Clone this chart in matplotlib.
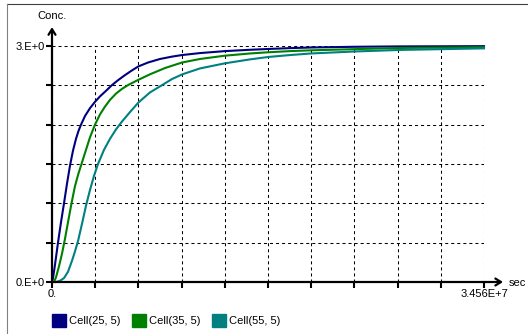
import numpy as np
import matplotlib
matplotlib.use('Agg')
import matplotlib.pyplot as plt
from matplotlib.patches import Patch
from matplotlib.lines import Line2D

plt.rcParams['font.family'] = ['Liberation Sans', 'DejaVu Sans']

# ---- data (time in seconds, concentration) ----
x_max = 3.456e7
y_max = 3.0

t_c25 = [0, 8e4, 2.4e5, 4.8e5, 7.2e5, 9.6e5, 1.2e6, 1.44e6, 1.68e6, 1.92e6,
         2.12e6, 2.32e6, 2.64e6, 3.04e6, 3.44e6, 3.84e6, 4.32e6, 4.776e6, 5.28e6, 5.84e6,
         6.4e6, 6.904e6, 7.68e6, 8.64e6, 9.6e6, 1.04e7, 1.184e7, 1.384e7, 1.584e7, 1.728e7,
         1.904e7, 2.072e7, 2.416e7, 2.784e7, 3.456e7]
c_c25 = [0, 0.05, 0.22, 0.5, 0.76, 1.0, 1.25, 1.48, 1.67, 1.82,
         1.92, 2.0, 2.11, 2.21, 2.29, 2.36, 2.43, 2.5, 2.565, 2.63,
         2.69, 2.74, 2.79, 2.835, 2.865, 2.885, 2.91, 2.935, 2.952, 2.962,
         2.973, 2.981, 2.99, 2.995, 2.998]

t_c35 = [0, 1.6e5, 3.2e5, 5.6e5, 8e5, 1.04e6, 1.28e6, 1.56e6, 1.84e6, 2.12e6,
         2.4e6, 2.72e6, 3.04e6, 3.44e6, 3.84e6, 4.24e6, 4.64e6, 5.12e6, 5.6e6, 6.104e6,
         6.904e6, 7.84e6, 9.04e6, 1.04e7, 1.184e7, 1.384e7, 1.584e7, 1.728e7, 1.904e7, 2.072e7,
         2.416e7, 2.784e7, 3.456e7]
c_c35 = [0, 0, 0.06, 0.2, 0.36, 0.55, 0.76, 1.0, 1.22, 1.38,
         1.52, 1.68, 1.84, 2.0, 2.13, 2.23, 2.315, 2.395, 2.455, 2.505,
         2.57, 2.64, 2.72, 2.79, 2.835, 2.877, 2.905, 2.92, 2.935, 2.945,
         2.96, 2.975, 2.985]

t_c55 = [0, 3.2e5, 6.4e5, 9.6e5, 1.28e6, 1.6e6, 1.84e6, 2.08e6, 2.4e6, 2.72e6,
         3.04e6, 3.36e6, 3.68e6, 4.16e6, 4.64e6, 5.12e6, 5.6e6, 6.24e6, 6.904e6, 7.84e6,
         8.776e6, 9.6e6, 1.0424e7, 1.184e7, 1.384e7, 1.584e7, 1.728e7, 1.904e7, 2.072e7, 2.416e7,
         2.784e7, 3.456e7]
c_c55 = [0, 0, 0.015, 0.05, 0.13, 0.27, 0.39, 0.52, 0.74, 0.97,
         1.17, 1.35, 1.5, 1.68, 1.82, 1.94, 2.04, 2.16, 2.28, 2.41,
         2.5, 2.58, 2.64, 2.715, 2.78, 2.83, 2.86, 2.885, 2.905, 2.93,
         2.95, 2.97]

series_names = ['Cell(25, 5)', 'Cell(35, 5)', 'Cell(55, 5)']
series_colors = ['#000080', '#008000', '#008080']
x_tick_labels = ['0.'] + [''] * 9 + ['3.456E+7']
y_tick_labels = ['0.E+0'] + [''] * 5 + ['3.E+0']

W, H = 528, 334
fig = plt.figure(figsize=(W / 100, H / 100), dpi=100)
fig.patch.set_facecolor('white')
ax = fig.add_axes([52 / W, 52 / H, 432 / W, 236 / H])
ax.set_xlim(0, x_max)
ax.set_ylim(0, y_max)

for t, c, col, lab in zip([t_c25, t_c35, t_c55], [c_c25, c_c35, c_c55],
                          series_colors, series_names):
    ax.plot(t, c, color=col, lw=1.5, label=lab, clip_on=False, zorder=3,
            solid_joinstyle='round')

ax.set_xticks(np.linspace(0, x_max, 11))
ax.set_yticks(np.linspace(0, y_max, 7))
ax.set_xticklabels(x_tick_labels)
ax.set_yticklabels(y_tick_labels)
ax.set_axisbelow(True)
ax.grid(True, color='black', linestyle=(0, (2.9, 2.9)), lw=0.75)
for s in ax.spines.values():
    s.set_visible(False)
ax.tick_params(direction='out', length=4, width=1.5, colors='black',
               pad=1, labelsize=8)

arrow = dict(arrowstyle='->,head_length=0.4,head_width=0.25', lw=1.6,
             color='black', shrinkA=0, shrinkB=0)
ax.annotate('', xy=(0, 1.08), xytext=(0, 0), xycoords='axes fraction',
            arrowprops=arrow, annotation_clip=False, zorder=4)
ax.annotate('', xy=(1.044, 0), xytext=(0, 0), xycoords='axes fraction',
            arrowprops=arrow, annotation_clip=False, zorder=4)

fig.text(52 / W, 1 - 16 / H, 'Conc.', ha='center', va='center', fontsize=8)
fig.text(509 / W, 1 - 283 / H, 'sec', ha='left', va='center', fontsize=8)

# window frame
fig.add_artist(Line2D([6.5 / W, 1], [1 - 3.5 / H] * 2, color='#404040', lw=0.8))
fig.add_artist(Line2D([6.5 / W] * 2, [0, 1 - 3.5 / H], color='#808080', lw=0.8))

handles = [Patch(facecolor=c, edgecolor=c) for c in series_colors]
fig.legend(handles=handles, labels=series_names, loc='center left',
           bbox_to_anchor=(52 / W, 13.5 / H), ncol=3, frameon=False,
           fontsize=8, handlelength=1.3, handleheight=1.3,
           handletextpad=0.25, columnspacing=1.0, borderpad=0,
           borderaxespad=0)

fig.savefig('out.png', dpi=100)
